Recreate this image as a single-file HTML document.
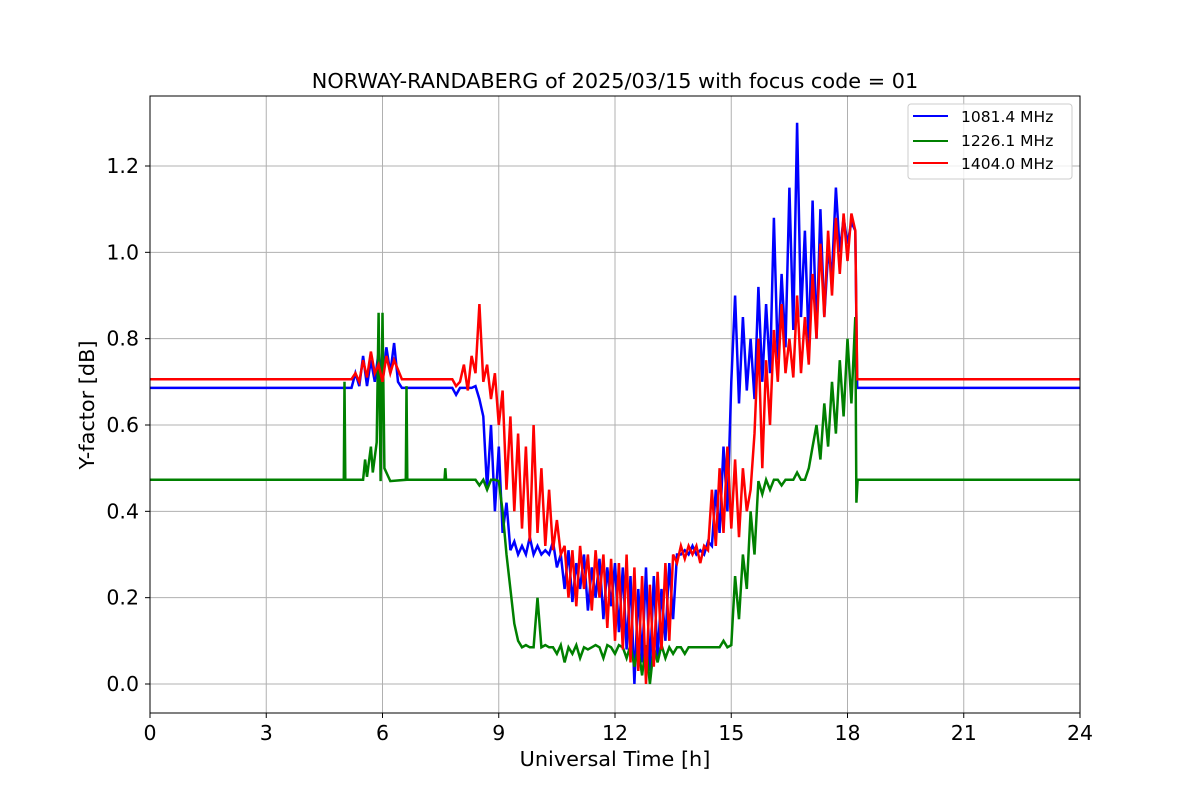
<!DOCTYPE html>
<html><head><meta charset="utf-8"><style>
body{margin:0;background:#fff}
svg{display:block;font-family:"DejaVu Sans","Liberation Sans",sans-serif}
</style></head><body>
<svg id="chart" width="1200" height="800" viewBox="0 0 1200 800">
<rect width="1200" height="800" fill="#fff"/>
<g id="grid"></g>
<g id="series" clip-path="url(#clip)"></g>
<clipPath id="clip"><rect x="150" y="96" width="930" height="617"/></clipPath>
<rect x="150" y="96" width="930" height="617" fill="none" stroke="#000" stroke-width="1"/>
<g id="ticks"></g>
<text x="615" y="88" text-anchor="middle" font-size="20.8">NORWAY-RANDABERG of 2025/03/15 with focus code = 01</text>
<text x="615" y="766" text-anchor="middle" font-size="20.8">Universal Time [h]</text>
<text transform="translate(94,405) rotate(-90)" text-anchor="middle" font-size="20.8">Y-factor [dB]</text>
<g>
<rect x="908" y="104" width="164" height="75" rx="3" fill="#fff" fill-opacity="0.8" stroke="#ccc"/>
<line x1="913" y1="116" x2="948" y2="116" stroke="#0000ff" stroke-width="2"/>
<text x="961" y="122" font-size="15.5">1081.4 MHz</text>
<line x1="913" y1="141" x2="948" y2="141" stroke="#008000" stroke-width="2"/>
<text x="961" y="146" font-size="15.5">1226.1 MHz</text>
<line x1="913" y1="163" x2="948" y2="163" stroke="#ff0000" stroke-width="2"/>
<text x="961" y="169" font-size="15.5">1404.0 MHz</text>
</g>
</svg>
<script>
const xTicks=[0,3,6,9,12,15,18,21,24];
const yTicks=[0.0,0.2,0.4,0.6,0.8,1.0,1.2];
const yTickLabels=["0.0","0.2","0.4","0.6","0.8","1.0","1.2"];

const blueTimesEarly=[0,5.2,5.3,5.4,5.5,5.6,5.7,5.8,5.9,6.0,6.1,6.2,6.3,6.4,6.5,7.8,7.9,8.0,8.3];
const blueValuesEarly=[.686,.686,.72,.69,.76,.69,.75,.70,.77,.70,.78,.72,.79,.70,.686,.686,.67,.686,.686];
const blueValuesActive=[.69,.66,.62,.45,.60,.40,.55,.35,.42,.31,.33,.30,.32,.30,.34,.30,.32,.30,.31,.30,.33,.27,.30,.22,.31,.19,.28,.22,.30,.17,.27,.20,.29,.15,.27,.18,.28,.12,.27,.08,.25,.00,.22,.05,.27,.03,.25,.06,.22,.10,.28,.15,.30,.30,.31,.30,.32,.30,.31,.30,.33,.32,.45,.35,.55,.40,.70,.90,.65,.85,.68,.80,.66,.92,.70,.88,.72,1.08,.75,.95,.78,1.15,.82,1.30,.85,1.05,.78,1.12,.80,1.10,.85,1.0,.95,1.15,1.0,1.08,1.02,1.07,1.05];
const blueActiveStart=8.4;
const blueTimesLate=[18.25,24];
const blueValuesLate=[.686,.686];

const greenTimesEarly=[0,5.0,5.02,5.04,5.5,5.55,5.6,5.7,5.75,5.85,5.9,5.95,6.0,6.05,6.2,6.6,6.62,6.64,7.6,7.62,7.64,8.3];
const greenValuesEarly=[.473,.473,.70,.473,.473,.52,.48,.55,.49,.56,.86,.47,.86,.50,.47,.473,.69,.473,.473,.50,.473,.473];
const greenValuesActive=[.473,.46,.473,.45,.473,.473,.47,.40,.30,.22,.14,.10,.085,.09,.085,.085,.20,.085,.09,.085,.085,.07,.09,.05,.085,.07,.09,.06,.085,.08,.085,.09,.085,.06,.09,.085,.07,.09,.085,.06,.09,.04,.085,.02,.09,.00,.085,.05,.09,.06,.085,.07,.085,.085,.07,.085,.085,.085,.085,.085,.085,.085,.085,.085,.10,.085,.09,.25,.15,.30,.22,.40,.30,.47,.44,.473,.45,.473,.473,.46,.473,.473,.473,.49,.473,.473,.50,.55,.60,.52,.65,.55,.70,.58,.75,.62,.80,.65,.85];
const greenActiveStart=8.4;
const greenTimesLate=[18.23,18.26,24];
const greenValuesLate=[.42,.473,.473];

const redTimesEarly=[0,5.2,5.3,5.4,5.5,5.6,5.7,5.8,5.9,6.0,6.1,6.2,6.3,6.5,7.8,7.9];
const redValuesEarly=[.706,.706,.72,.70,.75,.71,.77,.72,.74,.70,.76,.72,.75,.706,.706,.69];
const redValuesActive=[.70,.74,.68,.76,.72,.88,.70,.74,.66,.72,.60,.68,.45,.62,.40,.58,.36,.55,.33,.60,.35,.50,.32,.45,.31,.38,.30,.32,.20,.31,.18,.32,.22,.30,.17,.31,.20,.30,.13,.29,.10,.28,.08,.30,.05,.27,.03,.25,.00,.23,.04,.26,.08,.28,.10,.30,.28,.32,.29,.32,.30,.32,.28,.32,.31,.45,.32,.50,.35,.55,.36,.52,.34,.50,.40,.45,.58,.80,.50,.75,.60,.82,.70,.88,.72,.80,.71,.90,.72,.85,.74,.95,.80,1.02,.85,1.05,.90,1.08,.95,1.09,.98,1.09,1.05];
const redActiveStart=8.0;
const redTimesLate=[18.25,24];
const redValuesLate=[.706,.706];

const X=t=>150+t*(930/24);
const Y=v=>684-v*431.67;
const NS="http://www.w3.org/2000/svg";
function mk(tag,attrs,parent){const e=document.createElementNS(NS,tag);for(const k in attrs)e.setAttribute(k,attrs[k]);parent.appendChild(e);return e;}
const grid=document.getElementById('grid'),ticks=document.getElementById('ticks'),series=document.getElementById('series');
xTicks.forEach(t=>{
  const g=mk('line',{x1:X(t),x2:X(t),y1:96,y2:713,stroke:'#b0b0b0','stroke-width':1},grid);
  
  
  mk('line',{x1:X(t),x2:X(t),y1:713,y2:718,stroke:'#000'},ticks);
  const tx=mk('text',{x:X(t),y:740,'text-anchor':'middle','font-size':20.5},ticks);
  tx.textContent=t;
  
  
});
yTicks.forEach((v,i)=>{
  const g=mk('line',{x1:150,x2:1080,y1:Y(v),y2:Y(v),stroke:'#b0b0b0','stroke-width':1},grid);
  
  
  mk('line',{x1:145,x2:150,y1:Y(v),y2:Y(v),stroke:'#000'},ticks);
  const tx=mk('text',{x:139,y:Y(v)+7,'text-anchor':'end','font-size':20.5},ticks);
  tx.textContent=yTickLabels[i];
  
  
});
function build(te,ve,start,va,tl,vl){
  const pts=[];
  te.forEach((t,i)=>pts.push([t,ve[i]]));
  va.forEach((v,i)=>pts.push([start+i*0.1,v]));
  tl.forEach((t,i)=>pts.push([t,vl[i]]));
  return pts.map(p=>X(p[0]).toFixed(1)+','+Y(p[1]).toFixed(1)).join(' ');
}
const lb=mk('polyline',{points:build(blueTimesEarly,blueValuesEarly,blueActiveStart,blueValuesActive,blueTimesLate,blueValuesLate),fill:'none',stroke:'#0000ff','stroke-width':2.5},series);


const lg=mk('polyline',{points:build(greenTimesEarly,greenValuesEarly,greenActiveStart,greenValuesActive,greenTimesLate,greenValuesLate),fill:'none',stroke:'#008000','stroke-width':2.5},series);


const lr=mk('polyline',{points:build(redTimesEarly,redValuesEarly,redActiveStart,redValuesActive,redTimesLate,redValuesLate),fill:'none',stroke:'#ff0000','stroke-width':2.5},series);


</script>
</body></html>
